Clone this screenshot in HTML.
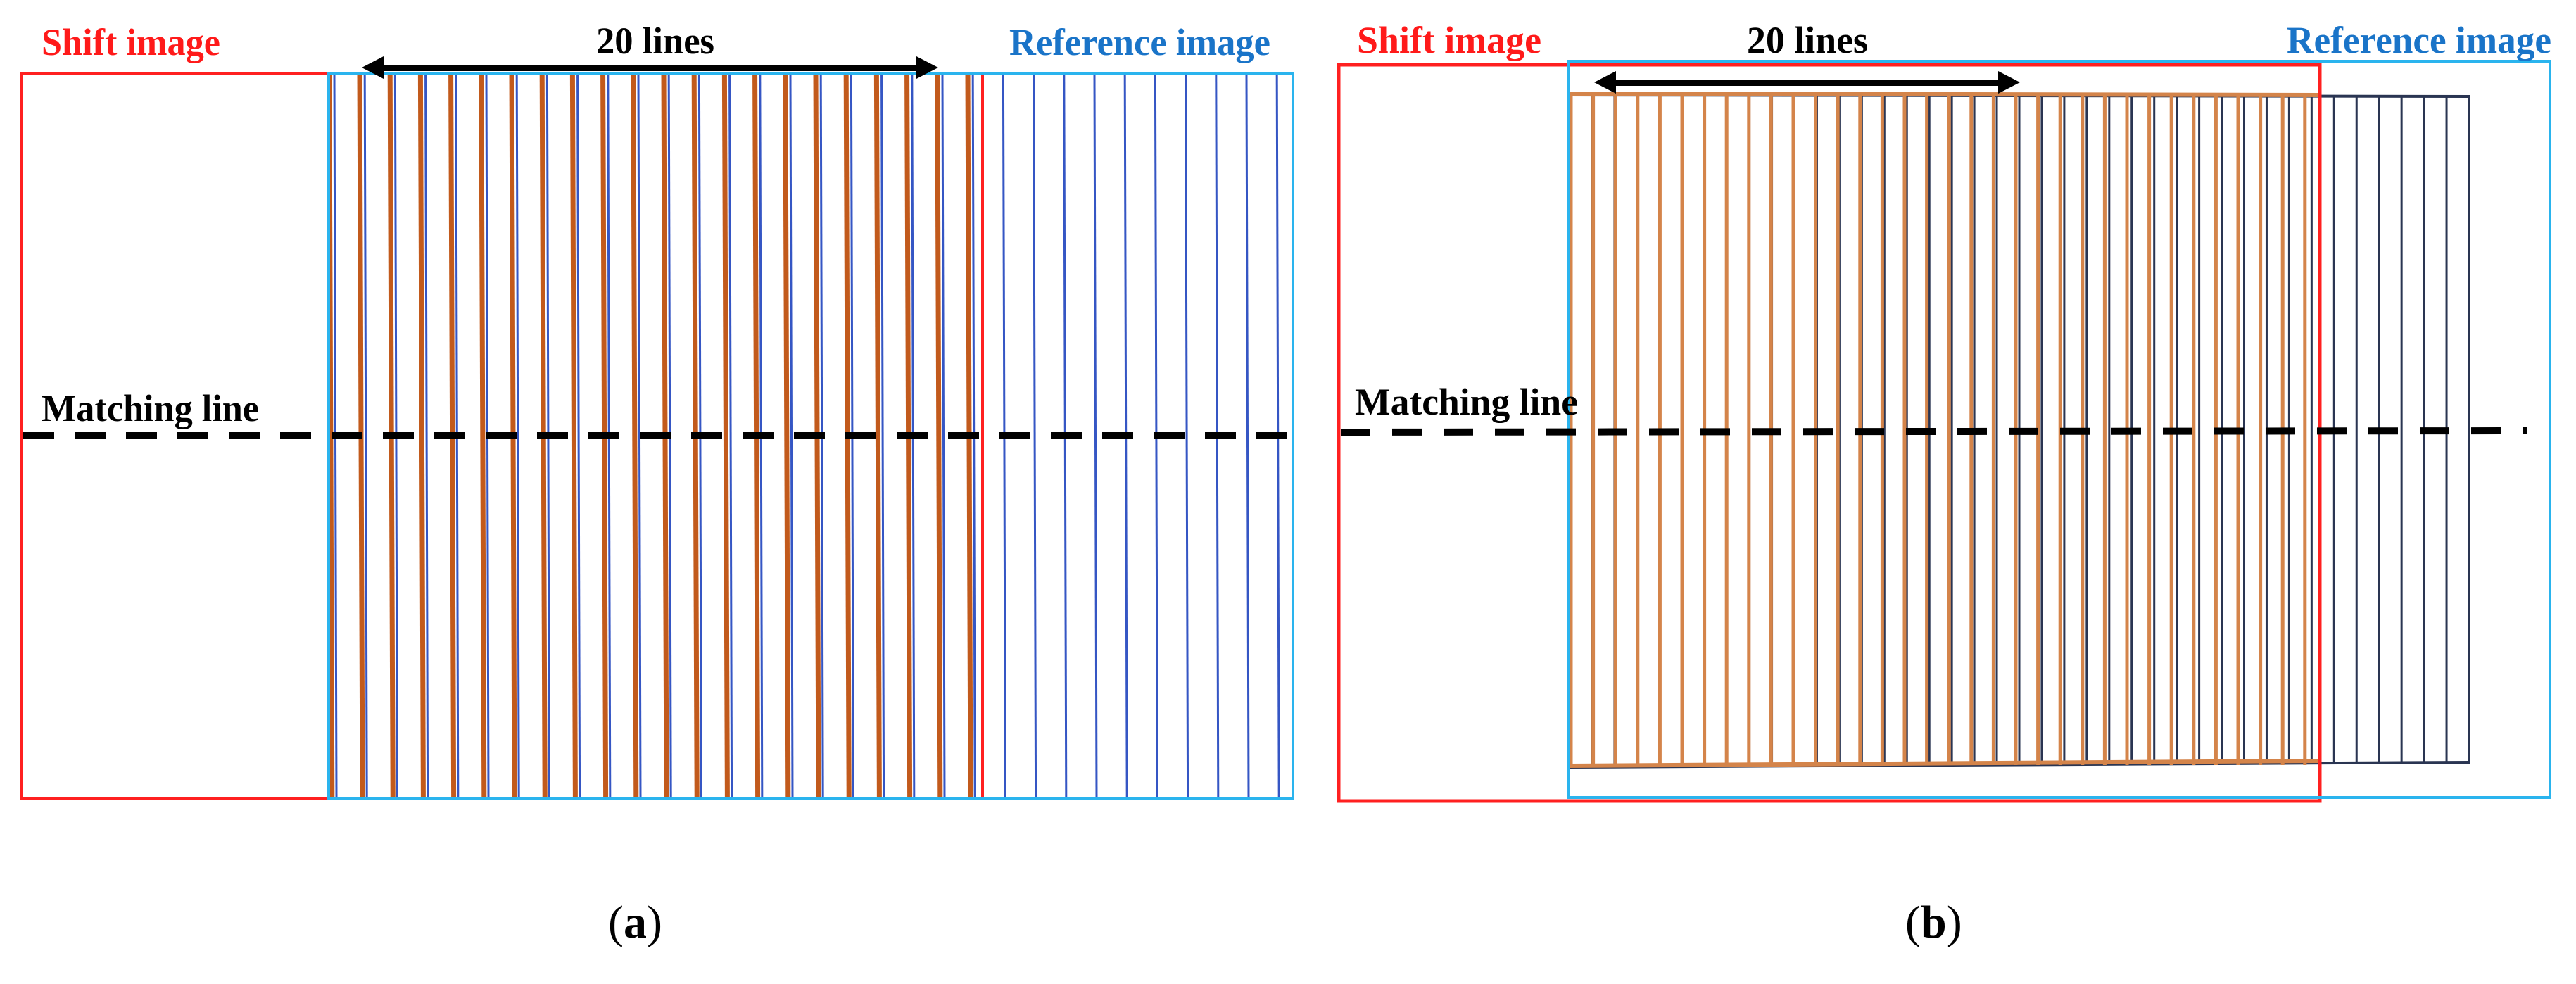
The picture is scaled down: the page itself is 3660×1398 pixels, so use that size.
<!DOCTYPE html>
<html><head><meta charset="utf-8">
<style>html,body{margin:0;padding:0;background:#fff;}svg{display:block;}</style>
</head><body>
<svg id="s" width="3660" height="1398" viewBox="0 0 3660 1398" xmlns="http://www.w3.org/2000/svg" font-family="Liberation Serif, serif" font-weight="bold">
<g id="a-lines"></g>
<g id="b-lines"></g>
<rect x="30" y="105" width="1366" height="1029" fill="none" stroke="#ff2020" stroke-width="4"/>
<rect x="467" y="105" width="1370" height="1029" fill="none" stroke="#2ab4ee" stroke-width="4"/>
<rect x="1902" y="92" width="1394" height="1046" fill="none" stroke="#ff2020" stroke-width="5"/>
<rect x="2228" y="87" width="1395" height="1046" fill="none" stroke="#2ab4ee" stroke-width="4"/>
<line x1="33" y1="619" x2="1841" y2="619" stroke="#000" stroke-width="10" stroke-dasharray="44 29"/>
<line x1="1905" y1="614" x2="3590" y2="612" stroke="#000" stroke-width="10" stroke-dasharray="42 31"/>
<g fill="#000">
<rect x="540" y="92" width="768" height="9"/>
<polygon points="514,96 545,80 545,112"/>
<polygon points="1333,96 1302,80 1302,112"/>
<rect x="2290" y="113" width="555" height="9"/>
<polygon points="2265,117 2296,101 2296,133"/>
<polygon points="2870,117 2839,101 2839,133"/>
</g>
<text x="59" y="78" font-size="54" fill="#ff1a1a" textLength="254" lengthAdjust="spacingAndGlyphs">Shift image</text>
<text x="847" y="76" font-size="54" fill="#000" textLength="168" lengthAdjust="spacingAndGlyphs">20 lines</text>
<text x="1434" y="78" font-size="54" fill="#1a74c8" textLength="371" lengthAdjust="spacingAndGlyphs">Reference image</text>
<text x="59" y="598" font-size="54" fill="#000" textLength="309" lengthAdjust="spacingAndGlyphs">Matching line</text>
<text x="1928" y="75" font-size="54" fill="#ff1a1a" textLength="262" lengthAdjust="spacingAndGlyphs">Shift image</text>
<text x="2482" y="75" font-size="54" fill="#000" textLength="172" lengthAdjust="spacingAndGlyphs">20 lines</text>
<text x="3249" y="75" font-size="54" fill="#1a74c8" textLength="376" lengthAdjust="spacingAndGlyphs">Reference image</text>
<text x="1925" y="589" font-size="54" fill="#000" textLength="317" lengthAdjust="spacingAndGlyphs">Matching line</text>
<text x="864" y="1332" font-size="66" font-weight="normal" fill="#000">(<tspan font-weight="bold">a</tspan>)</text>
<text x="2707" y="1332" font-size="66" font-weight="normal" fill="#000">(<tspan font-weight="bold">b</tspan>)</text>
</svg>
<script>
var NS="http://www.w3.org/2000/svg";
function L(g,x1,y1,x2,y2,c,w){var l=document.createElementNS(NS,"line");l.setAttribute("x1",x1);l.setAttribute("y1",y1);l.setAttribute("x2",x2);l.setAttribute("y2",y2);l.setAttribute("stroke",c);l.setAttribute("stroke-width",w);g.appendChild(l);}
var ga=document.getElementById("a-lines");
for(var k=0;k<=31;k++){var x=475+k*43.2;L(ga,x,107,x+3,1132,"#3556c4",3);}
for(var k=-1;k<=20;k++){var x=513+k*43.2-2;L(ga,x,107,x+4,1132,"#c25a1c",7);}
var gb=document.getElementById("b-lines");
for(var k=0;k<=40;k++){var x=2230+k*31.95;L(gb,x,135,x,1085,"#2a3552",3);}
L(gb,2230,135,3508,137,"#2a3552",4);L(gb,2230,1090,3508,1083,"#2a3552",4);
for(var k=0;k<=33;k++){var x=2232+k*31.6;L(gb,x,133,x,1087,"#d4844a",5);}
L(gb,2230,133,3295,135,"#d4844a",6);L(gb,2230,1088,3295,1081,"#d4844a",6);
</script>
</body></html>
